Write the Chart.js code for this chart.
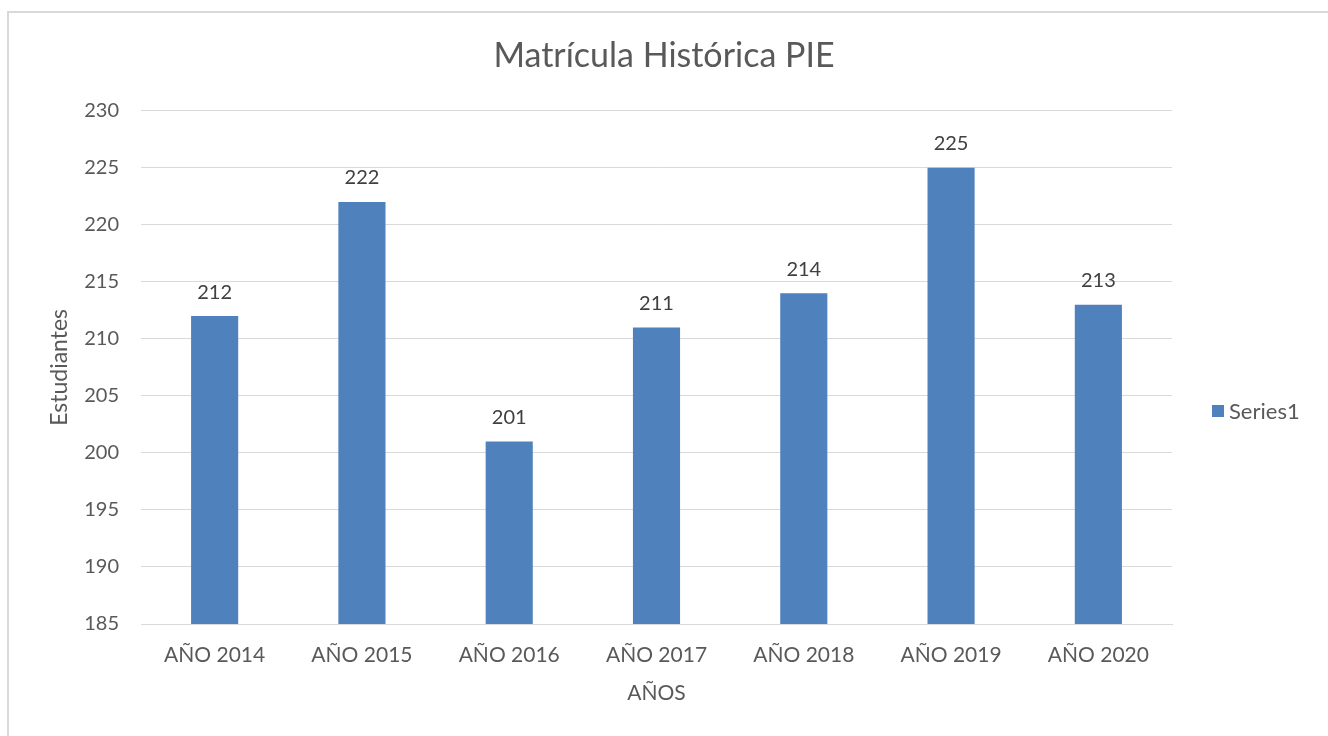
<!DOCTYPE html>
<html>
<head>
<meta charset="utf-8">
<script src="https://cdn.jsdelivr.net/npm/chart.js@4.4.0/dist/chart.umd.min.js"></script>
<style>
    body { margin: 0; background: #fff; }
    #frame {
        position: absolute; left: 7px; top: 11px; width: 1330px; height: 740px;
        border-left: 2px solid #d9d9d9; border-top: 2px solid #d9d9d9;
    }
    #wrap { position: absolute; left: 0; top: 0; width: 1328px; height: 736px; }
    #legend {
        position: absolute; left: 1212px; top: 397px;
        font-family: Lato, sans-serif; font-size: 22px; color: #595959;
        display: flex; align-items: center;
    }
    #legend span.box { display: inline-block; width: 12px; height: 12px; background: #4f81bd; margin-right: 5px; }
</style>
</head>
<body>
<div id="frame"></div>
<div id="wrap"><canvas id="myChart"></canvas></div>
<div id="legend"><span class="box"></span><span>Series1</span></div>
<script>
// datos
const categorias = ['AÑO 2014', 'AÑO 2015', 'AÑO 2016', 'AÑO 2017', 'AÑO 2018', 'AÑO 2019', 'AÑO 2020'];
const valores = [212, 222, 201, 211, 214, 225, 213];
const ejeMin = 185;
const ejeMax = 230;
const paso = 5;

// etiquetas de datos encima de las barras
const etiquetasBarras = {
    id: 'etiquetasBarras',
    afterDatasetsDraw(chart) {
        const ctx = chart.ctx;
        const meta = chart.getDatasetMeta(0);
        ctx.save();
        ctx.font = '20px Lato, sans-serif';
        ctx.fillStyle = '#404040';
        ctx.textAlign = 'center';
        ctx.textBaseline = 'middle';
        meta.data.forEach((bar, i) => {
            ctx.fillText(valores[i], bar.x, bar.y - 24);
        });
        ctx.restore();
    }
};

var ctx = document.getElementById('myChart').getContext('2d');
var myChart = new Chart(ctx, {
    type: 'bar',
    data: {
        labels: categorias,
        datasets: [{
            label: 'Series1',
            data: valores,
            backgroundColor: '#4f81bd',
            categoryPercentage: 1,
            barPercentage: 0.32,
            yAxisID: 'y'
        }]
    },
    options: {
        responsive: true,
        maintainAspectRatio: false,
        animation: false,
        layout: { padding: 0 },
        plugins: {
            legend: { display: false },
            tooltip: { enabled: false },
            title: {
                display: true,
                text: 'Matrícula Histórica PIE',
                color: '#595959',
                font: { family: 'Lato, sans-serif', size: 34, weight: 'normal' },
                padding: { top: 36, bottom: 34 }
            }
        },
        scales: {
            x: {
                grid: { display: false, drawTicks: false },
                border: { color: '#d9d9d9', width: 1 },
                ticks: { color: '#595959', font: { family: 'Lato, sans-serif', size: 21 }, padding: 19, maxRotation: 0 },
                title: {
                    display: true, text: 'AÑOS', color: '#595959',
                    font: { family: 'Lato, sans-serif', size: 21 },
                    padding: { top: 0, bottom: 30 }
                },
                afterFit(scale) { scale.height = 112; }
            },
            y: {
                min: ejeMin,
                max: ejeMax,
                grid: { color: '#d9d9d9', drawTicks: false },
                border: { display: false },
                ticks: { stepSize: paso, color: '#595959', font: { family: 'Lato, sans-serif', size: 20 }, padding: 22 },
                title: {
                    display: true, text: 'Estudiantes', color: '#595959',
                    font: { family: 'Lato, sans-serif', size: 23 },
                    padding: { top: 46, bottom: 0 }
                },
                afterFit(scale) { scale.width = 141; }
            },
            // espacio a la derecha para la leyenda
            derecha: {
                position: 'right',
                grid: { display: false, drawTicks: false },
                border: { display: false },
                ticks: { display: false },
                afterFit(scale) { scale.width = 156; }
            }
        }
    },
    plugins: [etiquetasBarras]
});
</script>
</body>
</html>
